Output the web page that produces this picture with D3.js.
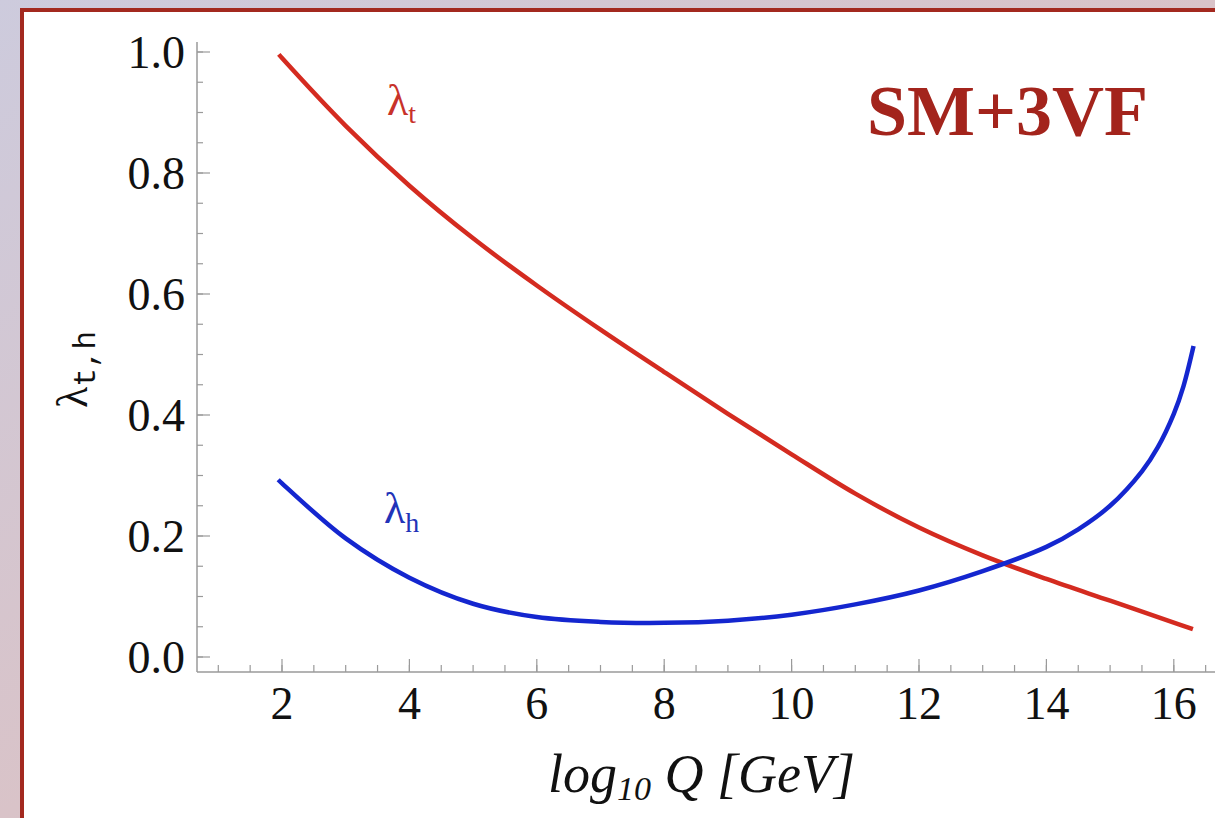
<!DOCTYPE html>
<html>
<head>
<meta charset="utf-8">
<script src="https://cdn.jsdelivr.net/npm/d3@7/dist/d3.min.js"></script>
<style>
  html, body { margin: 0; padding: 0; background: #fff; }
  svg { display: block; }
</style>
</head>
<body>
<svg id="chart" width="1215" height="818"></svg>
<script>
// ---- data ----
const xLogT = [1.95, 2, 3, 4, 5, 6, 7, 8, 9, 10, 11, 12, 13, 14, 15, 16, 16.3];
const lambdaT = [0.996, 0.990, 0.878, 0.779, 0.692, 0.614, 0.541, 0.471, 0.402, 0.335, 0.270, 0.214, 0.168, 0.129, 0.093, 0.057, 0.046];

const xLogH = [1.94, 2, 3, 4, 5, 6, 7, 8, 9, 10, 11, 12, 13, 14, 14.5, 15, 15.5, 15.75, 16, 16.15, 16.31];
const lambdaH = [0.293, 0.287, 0.196, 0.131, 0.088, 0.066, 0.058, 0.0565, 0.060, 0.070, 0.087, 0.110, 0.142, 0.182, 0.211, 0.250, 0.307, 0.347, 0.402, 0.447, 0.514];

const xTickValues = [2, 4, 6, 8, 10, 12, 14, 16];
const xTickLabels = ["2", "4", "6", "8", "10", "12", "14", "16"];
const yTickValues = [0, 0.2, 0.4, 0.6, 0.8, 1.0];
const yTickLabels = ["0.0", "0.2", "0.4", "0.6", "0.8", "1.0"];
const xMinorTicks = d3.range(1.0, 16.51, 0.5);
const yMinorTicks = d3.range(0, 1.001, 0.05);

const modelLabel = "SM+3VF";

// ---- layout ----
const W = 1215, H = 818;
const svg = d3.select("#chart");

const defs = svg.append("defs");
const grad = defs.append("linearGradient").attr("id", "bg")
  .attr("x1", "0").attr("y1", "0").attr("x2", "1").attr("y2", "1");
grad.append("stop").attr("offset", "0").attr("stop-color", "#cdcbdd");
grad.append("stop").attr("offset", "0.5").attr("stop-color", "#d9c3c8");
grad.append("stop").attr("offset", "1").attr("stop-color", "#d8b3b3");

svg.append("rect").attr("x", 0).attr("y", 0).attr("width", W).attr("height", H).attr("fill", "url(#bg)");
svg.append("rect").attr("x", 22).attr("y", 10).attr("width", W + 20).attr("height", H + 20)
  .attr("fill", "#ffffff").attr("stroke", "#a3291f").attr("stroke-width", 4);

const x = d3.scaleLinear().domain([2, 16]).range([282, 1173.8]);
const y = d3.scaleLinear().domain([0, 1]).range([657, 52]);

const xAxisY = 672;
const yAxisX = 197;
const axisColor = "#9a9a9a";
const serif = "'Liberation Serif', 'Times New Roman', serif";

// x axis
const xAxis = svg.append("g").attr("transform", `translate(0,${xAxisY})`);
xAxis.append("line").attr("x1", yAxisX).attr("x2", W).attr("y1", 0).attr("y2", 0)
  .attr("stroke", axisColor).attr("stroke-width", 1.5);
xAxis.selectAll("line.minor").data(xMinorTicks).enter().append("line")
  .attr("class", "minor")
  .attr("x1", d => x(d)).attr("x2", d => x(d)).attr("y1", 0).attr("y2", -7)
  .attr("stroke", axisColor).attr("stroke-width", 1.2);
xAxis.selectAll("line.major").data(xTickValues).enter().append("line")
  .attr("class", "major")
  .attr("x1", d => x(d)).attr("x2", d => x(d)).attr("y1", 0).attr("y2", -13)
  .attr("stroke", axisColor).attr("stroke-width", 1.2);
xAxis.selectAll("text").data(xTickValues).enter().append("text")
  .attr("x", d => x(d)).attr("y", 47)
  .attr("text-anchor", "middle")
  .attr("font-family", serif).attr("font-size", 46).attr("fill", "#111")
  .text((d, i) => xTickLabels[i]);

// y axis
const yAxis = svg.append("g").attr("transform", `translate(${yAxisX},0)`);
yAxis.append("line").attr("x1", 0).attr("x2", 0).attr("y1", 42).attr("y2", xAxisY)
  .attr("stroke", axisColor).attr("stroke-width", 1.5);
yAxis.selectAll("line.minor").data(yMinorTicks).enter().append("line")
  .attr("class", "minor")
  .attr("x1", 0).attr("x2", 6).attr("y1", d => y(d)).attr("y2", d => y(d))
  .attr("stroke", axisColor).attr("stroke-width", 1.2);
yAxis.selectAll("line.major").data(yTickValues).enter().append("line")
  .attr("class", "major")
  .attr("x1", 0).attr("x2", 13).attr("y1", d => y(d)).attr("y2", d => y(d))
  .attr("stroke", axisColor).attr("stroke-width", 1.2);
yAxis.selectAll("text").data(yTickValues).enter().append("text")
  .attr("x", -12).attr("y", d => y(d)).attr("dy", "0.34em")
  .attr("text-anchor", "end")
  .attr("font-family", serif).attr("font-size", 46).attr("fill", "#111")
  .text((d, i) => yTickLabels[i]);

// axis titles
const xt = svg.append("text").attr("x", 548).attr("y", 792)
  .attr("font-family", serif).attr("font-style", "italic").attr("font-size", 54).attr("fill", "#111");
xt.append("tspan").text("log");
xt.append("tspan").attr("font-size", 34).attr("dy", 8).text("10");
xt.append("tspan").attr("dy", -8).text(" Q [GeV]");

const yt = svg.append("text").attr("transform", "translate(87,408) rotate(-90)")
  .attr("fill", "#111");
yt.append("tspan").attr("font-family", serif).attr("font-size", 44).text("λ");
yt.append("tspan").attr("font-family", "'Liberation Mono', 'DejaVu Sans Mono', monospace")
  .attr("font-size", 31).attr("dy", 8).text("t,h");

// curves
const line = d3.line().x(d => x(d[0])).y(d => y(d[1])).curve(d3.curveCatmullRom.alpha(0.5));
const tData = xLogT.map((v, i) => [v, lambdaT[i]]);
const hData = xLogH.map((v, i) => [v, lambdaH[i]]);

svg.append("path").datum(tData).attr("d", line)
  .attr("fill", "none").attr("stroke", "#d42b20").attr("stroke-width", 4.5);
svg.append("path").datum(hData).attr("d", line)
  .attr("fill", "none").attr("stroke", "#1426cf").attr("stroke-width", 4.5);

// curve labels
const lt = svg.append("text").attr("x", 387).attr("y", 115).attr("fill", "#c8322a").attr("font-family", serif);
lt.append("tspan").attr("font-size", 44).text("λ");
lt.append("tspan").attr("font-size", 28).attr("dy", 8).text("t");

const lh = svg.append("text").attr("x", 384).attr("y", 523).attr("fill", "#2233b8").attr("font-family", serif);
lh.append("tspan").attr("font-size", 44).text("λ");
lh.append("tspan").attr("font-size", 28).attr("dy", 9).text("h");

// model label
svg.append("text").attr("x", 1148).attr("y", 135).attr("text-anchor", "end")
  .attr("font-family", serif).attr("font-weight", "bold").attr("font-size", 72)
  .attr("fill", "#a3241c").text(modelLabel);
</script>
</body>
</html>
